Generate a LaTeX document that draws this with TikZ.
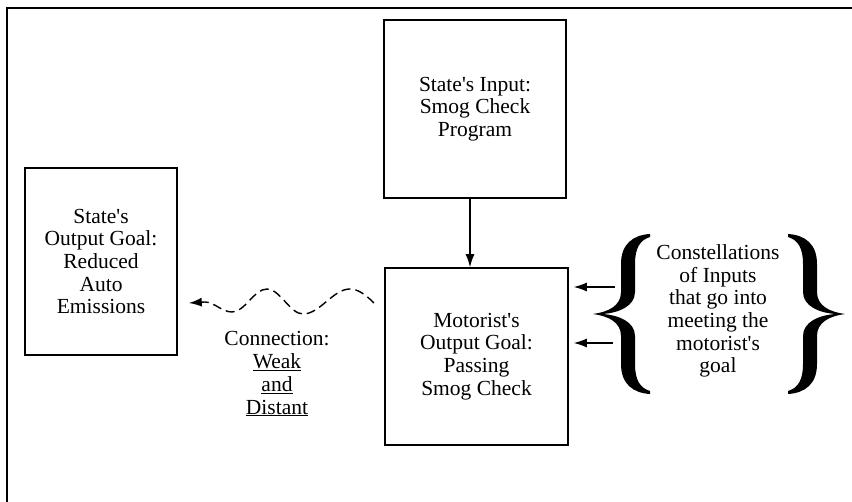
\documentclass[tikz,border=0pt]{standalone}
\usepackage{fontspec}
\setmainfont{Liberation Serif}
\usetikzlibrary{arrows.meta}
\newcommand{\qs}{\textquotesingle}
\tikzset{
  box/.style={draw,line width=1.6pt,inner sep=0pt,font=\fontsize{21.5}{22.7}\selectfont,align=center},
  lbl/.style={inner sep=0pt,font=\fontsize{21.5}{22.7}\selectfont,align=center},
  arr/.style={line width=1.3pt,-{Latex[length=13pt,width=9pt]}},
  wavy/.style={line width=1.4pt,dash pattern=on 9pt off 5pt,-{Latex[length=13pt,width=9pt]}},
  lbrace/.pic={
    \fill (57,-80) .. controls (40,-79) and (28,-70) .. (28,-50) -- (28,-22)
      .. controls (28,-8) and (15,-2) .. (0,0)
      .. controls (15,2) and (28,8) .. (28,22) -- (28,50)
      .. controls (28,70) and (40,79) .. (57,80) -- (57,77)
      .. controls (47,74) and (42,66) .. (42,50) -- (42,22)
      .. controls (42,8) and (26,1) .. (9,0)
      .. controls (26,-1) and (42,-8) .. (42,-22) -- (42,-50)
      .. controls (42,-66) and (47,-74) .. (57,-77) -- cycle;
  }
}
\begin{document}
\begin{tikzpicture}[x=1pt,y=-1pt]
\useasboundingbox (0,0) rectangle (852,502);
% frame
\draw[line width=1.8pt] (852,8) -- (7,8) -- (7,502);
% boxes
\node[box,minimum width=182pt,minimum height=178pt] (top) at (475,109)
  {State\qs s Input:\\Smog Check\\Program};
\node[box,minimum width=183pt,minimum height=177pt] (mot) at (476.5,356.5)
  {Motorist\qs s\\Output Goal:\\Passing\\Smog Check};
\node[box,minimum width=152pt,minimum height=187pt] (lbox) at (101,261.5)
  {State\qs s\\Output Goal:\\Reduced\\Auto\\Emissions};
% vertical arrow
\coordinate (ax) at (470,0);
\draw[arr] (top.south -| ax) -- (mot.north -| ax);
% braces and text
\pic at (593,314) {lbrace};
\pic[xscale=-1] at (845,314) {lbrace};
\node[lbl] (cons) at (718,311)
  {Constellations\\of Inputs\\that go into\\meeting the\\motorist\qs s\\goal};
\coordinate (b1) at (615,287);
\coordinate (b2) at (613,343);
\draw[arr] (b1) -- ([xshift=5pt]b1 -| mot.east);
\draw[arr] (b2) -- ([xshift=5pt]b2 -| mot.east);
% wavy connection
\coordinate (ws) at (374,303);
\coordinate (we) at ([xshift=11pt]lbox.east |- ws);
\draw[wavy] (ws) .. controls (366,295) and (358,289) .. (350,289)
  .. controls (333,289) and (320,314) .. (303,314)
  .. controls (290,314) and (280,289) .. (267,289)
  .. controls (254,289) and (245,312) .. (232,312)
  .. controls (222,312) and (214,302) .. (205,302) -- (we);
\node[lbl] (conn) at (277,374)
  {Connection:\\\underline{Weak}\\\underline{and}\\\underline{Distant}};
\end{tikzpicture}
\end{document}
